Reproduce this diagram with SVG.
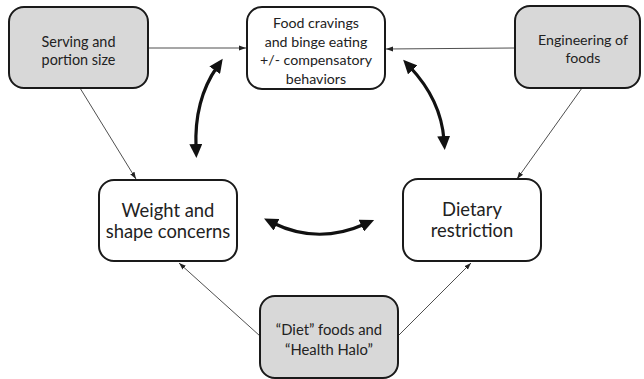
<svg xmlns="http://www.w3.org/2000/svg" width="644" height="379" viewBox="0 0 644 379">
<defs>
<style>
.box{stroke:#1a1a1a;stroke-width:2}
.w{fill:#ffffff}
.g{fill:#d8d8d8}
text{font-family:Lato,"Open Sans","Liberation Sans",sans-serif;fill:#222;text-anchor:middle}
.thin{fill:none;stroke:#222;stroke-width:0.8}
.thick{fill:none;stroke:#111;stroke-width:3.2}
</style>
<marker id="sa" markerUnits="userSpaceOnUse" markerWidth="8" markerHeight="6" refX="7" refY="3" orient="auto">
<path d="M0,0.5 L7,3 L0,5.5 z" fill="#222"/>
</marker>
<marker id="ba" markerUnits="userSpaceOnUse" markerWidth="15" markerHeight="13" refX="4" refY="6.5" orient="auto-start-reverse">
<path d="M0,0 L14,6.5 L0,13 z" fill="#111"/>
</marker>
</defs>
<g id="connectors">
<line class="thin" x1="148" y1="48" x2="246" y2="48" marker-end="url(#sa)"/>
<line class="thin" x1="515" y1="48" x2="386" y2="49" marker-end="url(#sa)"/>
<line class="thin" x1="80" y1="88" x2="136" y2="179" marker-end="url(#sa)"/>
<line class="thin" x1="582" y1="88" x2="517" y2="179" marker-end="url(#sa)"/>
<line class="thin" x1="260" y1="336" x2="179" y2="263" marker-end="url(#sa)"/>
<line class="thin" x1="398" y1="336" x2="471" y2="263" marker-end="url(#sa)"/>
<path class="thick" d="M196,148 Q194,100 217,67" marker-start="url(#ba)" marker-end="url(#ba)"/>
<path class="thick" d="M410,67 Q441,100 444,140" marker-start="url(#ba)" marker-end="url(#ba)"/>
<path class="thick" d="M273,223 Q318,245 365,224" marker-start="url(#ba)" marker-end="url(#ba)"/>
</g>
<g id="serving">
<rect class="box g" x="9" y="7" width="139" height="81" rx="15"/>
<text x="78.5" y="47" font-size="14.4">Serving and</text>
<text x="78.5" y="65" font-size="14.4">portion size</text>
</g>
<g id="food">
<rect class="box w" x="247" y="7" width="138" height="82" rx="15"/>
<text x="316" y="28" font-size="14.2">Food cravings</text>
<text x="316" y="46.5" font-size="14.2">and binge eating</text>
<text x="316" y="65" font-size="14.2">+/- compensatory</text>
<text x="316" y="83.5" font-size="14.2">behaviors</text>
</g>
<g id="engineering">
<rect class="box g" x="515" y="6" width="125" height="82" rx="15"/>
<text x="583" y="45" font-size="14.2">Engineering of</text>
<text x="583" y="63" font-size="14.2">foods</text>
</g>
<g id="weight">
<rect class="box w" x="99" y="180" width="138" height="81" rx="15"/>
<text x="168" y="217" font-size="18.4">Weight and</text>
<text x="168" y="238" font-size="18.4">shape concerns</text>
</g>
<g id="dietary">
<rect class="box w" x="403" y="179" width="138" height="82" rx="15"/>
<text x="472" y="216" font-size="18.4">Dietary</text>
<text x="472" y="237" font-size="18.4">restriction</text>
</g>
<g id="dietfoods">
<rect class="box g" x="260" y="296" width="138" height="82" rx="15"/>
<text x="329" y="335" font-size="14.8">“Diet” foods and</text>
<text x="329" y="355" font-size="14.8">“Health Halo”</text>
</g>
</svg>
